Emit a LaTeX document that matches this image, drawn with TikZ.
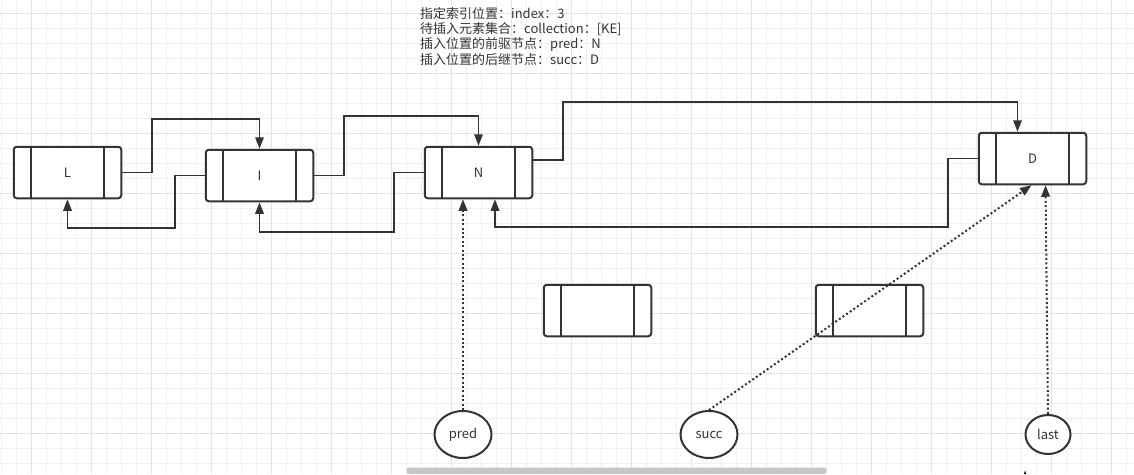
\documentclass[tikz,border=0pt]{standalone}
\usepackage{fontspec}
\setmainfont{Noto Sans CJK SC}
\usetikzlibrary{arrows.meta,shapes.geometric}
\definecolor{ink}{HTML}{333333}
\definecolor{gridminor}{HTML}{F0F0F0}
\definecolor{gridmajor}{HTML}{E3E3E3}
\definecolor{scrollbar}{HTML}{C6C6C6}
\tikzset{
  cell/.style={draw=ink, fill=white, line width=2pt, rounded corners=3pt,
    minimum width=107.5pt, minimum height=51.5pt, inner sep=0pt,
    font=\fontsize{13}{15}\selectfont, text=ink},
  ptr/.style={ellipse, draw=ink, fill=white, line width=2pt, inner sep=0pt,
    font=\fontsize{13}{15}\selectfont, text=ink},
  link/.style={draw=ink, line width=1.6pt, -{Triangle[length=11.5pt,width=8.5pt]}},
  dotlink/.style={link, line width=2pt, dash pattern=on 2pt off 2.4pt},
  note/.style={anchor=base west, inner sep=0pt, font=\fontsize{13}{15}\selectfont, text=ink},
  divider/.style={draw=ink, line width=2pt}
}
% vertical bars marking the prev/next fields of a list cell
\newcommand\cellbars[1]{%
  \draw[divider] ([xshift=18pt]#1.north west) -- ([xshift=18pt]#1.south west)
                 ([xshift=-18pt]#1.north east) -- ([xshift=-18pt]#1.south east);}
\begin{document}
\begin{tikzpicture}[x=1pt, y=-1pt]
  \useasboundingbox (0,0) rectangle (1134,474);
  \fill[white] (0,0) rectangle (1134,474);
  % background grid
  \foreach \i in {0,...,75} \draw[gridminor, line width=1pt] (1.5+15*\i,0) -- (1.5+15*\i,474);
  \foreach \j in {0,...,32} \draw[gridminor, line width=1pt] (0,-1.7+15*\j) -- (1134,-1.7+15*\j);
  \foreach \i in {0,...,18} \draw[gridmajor, line width=1pt] (31.5+60*\i,0) -- (31.5+60*\i,474);
  \foreach \j in {0,...,7} \draw[gridmajor, line width=1pt] (0,13.3+60*\j) -- (1134,13.3+60*\j);

  % description
  \node[note] (t1) at (420,18.5) {指定索引位置：index：3};
  \node[note] (t2) at (420,33.7) {待插入元素集合：collection：[KE]};
  \node[note] (t3) at (420,48.9) {插入位置的前驱节点：pred：N};
  \node[note] (t4) at (420,64.1) {插入位置的后继节点：succ：D};

  % list cells
  \node[cell] (L) at (67.5,172.5) {L};
  \node[cell] (I) at (259.5,175.5) {I};
  \node[cell] (N) at (478.5,172.5) {N};
  \node[cell] (D) at (1032.5,158.5) {D};
  \node[cell] (E1) at (597.5,310.5) {};
  \node[cell] (E2) at (869.5,310.5) {};
  \foreach \c in {L,I,N,D,E1,E2} {\cellbars{\c}}

  % pointer variables
  \node[ptr, minimum width=57pt, minimum height=47pt] (pred) at (463,434.5) {pred};
  \node[ptr, minimum width=57pt, minimum height=47pt] (succ) at (709,434.5) {succ};
  \node[ptr, minimum width=45pt, minimum height=39pt] (last) at (1048,434.5) {last};

  % next links
  \draw[link] (L.east) -| (152,119) -| (I.north);
  \draw[link] (I.east) -| (344,116) -| (N.north);
  \draw[link] ([yshift=12.5pt]N.east) -| (563,102) -| ([xshift=-15pt]D.north);
  % prev links
  \draw[link] (I.west) -| (175,228) -| (L.south);
  \draw[link] (N.west) -| (394,232) -| (I.south);
  \draw[link] (D.west) -| (948,227) -| ([xshift=16.5pt]N.south);

  % pointer references
  \draw[dotlink] (pred.north) -- (pred.north |- N.south);
  \draw[dotlink] (succ.north) -- ([xshift=-1pt]D.south);
  \draw[dotlink] (last.north) -- ([xshift=13pt]D.south);

  % scroll bar and cursor tip
  \fill[scrollbar, rounded corners=2.5pt] (406.5,467.5) rectangle (826.5,474);
  \fill[black] (1024,474) -- (1025,470.5) -- (1026.2,474) -- cycle;
\end{tikzpicture}
\end{document}
